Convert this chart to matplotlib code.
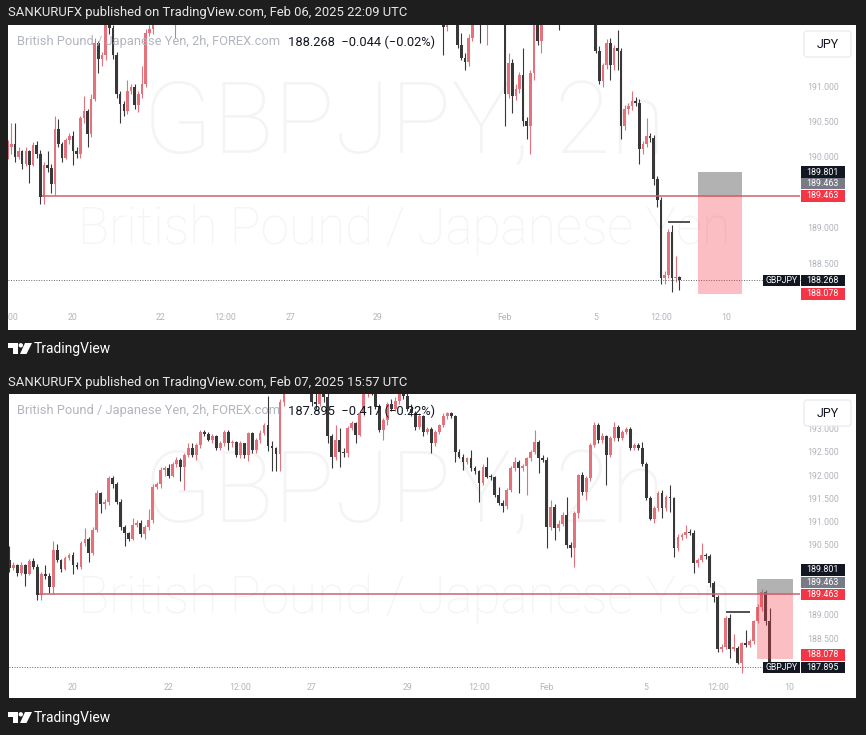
import numpy as np
import matplotlib
matplotlib.use('Agg')
import matplotlib.pyplot as plt
from matplotlib.patches import Rectangle, Polygon, Circle, FancyBboxPatch

plt.rcParams['font.family'] = ['Roboto', 'DejaVu Sans']

# 2h GBPJPY bars, index 0 = Jan 20 00:00, first bar = -18
FIRST_BAR = -18
opens = [
    190.05, 190.15, 190.20, 190.02, 190.10, 189.92, 190.10, 189.90, 190.18, 190.06,
    189.45, 189.90, 189.86, 189.63, 190.41, 190.20, 190.00, 190.25, 190.31, 190.10,
    190.05, 190.56, 190.66, 190.34, 190.84, 191.63, 191.40, 191.45, 191.95, 191.84,
    191.45, 190.91, 190.77, 190.66, 190.95, 191.00, 190.75, 190.90, 191.05, 191.77,
    191.83, 192.13, 192.17, 192.00, 192.27, 192.35, 192.20, 192.45, 192.60, 192.45,
    192.67, 192.95, 192.90, 192.78, 192.85, 192.60, 192.70, 192.95, 192.70, 192.74,
    192.45, 192.70, 192.45, 192.92, 192.56, 192.78, 192.92, 193.10, 192.65, 192.60,
    192.47, 193.60, 193.95, 194.10, 194.00, 194.15, 194.05, 194.20, 193.95, 193.60,
    193.55, 193.85, 193.70, 192.85, 192.42, 192.78, 192.52, 192.49, 193.03, 193.13,
    192.88, 193.35, 193.82, 193.95, 193.85, 193.50, 193.00, 193.20, 193.55, 193.45,
    193.62, 193.80, 193.72, 193.45, 193.35, 193.06, 193.30, 192.95, 193.02, 192.70,
    192.95, 193.10, 193.28, 193.35, 193.30, 192.52, 192.42, 192.31, 192.38, 192.17,
    192.10, 191.85, 192.20, 191.99, 191.97, 191.60, 191.42, 191.36, 191.70, 192.18,
    192.30, 192.17, 192.21, 192.38, 192.52, 192.74, 192.38, 192.35, 190.91, 191.34,
    190.88, 190.98, 191.17, 190.52, 190.45, 191.20, 192.02, 191.66, 191.95, 192.67,
    193.10, 192.78, 192.85, 192.45, 192.81, 193.05, 192.81, 192.95, 193.02, 192.60,
    192.66, 192.60, 192.27, 191.52, 191.09, 191.31, 191.63, 191.31, 191.56, 191.52,
    190.45, 190.70, 190.73, 190.80, 190.78, 190.13, 190.20, 190.31, 190.28, 189.70,
    189.40, 188.30, 188.34, 188.95, 188.30, 188.31, 187.98, 188.41, 188.38, 188.46,
    188.88, 189.20, 189.52, 188.88]
highs = [
    190.25, 190.50, 190.50, 190.15, 190.12, 190.15, 190.12, 190.22, 190.24, 190.12,
    189.95, 190.10, 189.92, 190.60, 190.55, 190.22, 190.28, 190.36, 190.38, 190.15,
    190.60, 190.88, 190.70, 190.90, 191.70, 191.65, 191.50, 192.00, 192.00, 191.88,
    191.50, 190.95, 190.80, 191.10, 191.05, 191.05, 190.95, 191.30, 191.82, 191.88,
    192.20, 192.22, 192.25, 192.30, 192.40, 192.38, 192.50, 192.70, 192.70, 192.70,
    193.00, 193.00, 192.95, 192.90, 192.88, 192.75, 193.00, 192.98, 192.78, 192.76,
    192.75, 192.72, 192.95, 192.95, 192.82, 192.98, 193.15, 193.72, 192.75, 192.62,
    193.65, 194.05, 194.20, 194.20, 194.30, 194.25, 194.30, 194.30, 194.00, 193.90,
    193.95, 193.95, 193.80, 192.90, 193.10, 193.03, 192.60, 193.08, 193.18, 193.16,
    193.40, 193.90, 194.05, 194.05, 193.90, 193.55, 193.25, 193.58, 193.65, 193.70,
    193.90, 193.95, 193.78, 193.55, 193.40, 193.35, 193.32, 193.05, 193.06, 192.98,
    193.12, 193.35, 193.38, 193.38, 193.32, 192.58, 192.48, 192.42, 192.56, 192.22,
    192.14, 192.25, 192.42, 192.05, 192.00, 191.77, 191.48, 191.75, 192.22, 192.42,
    192.34, 192.25, 192.42, 192.56, 192.99, 192.78, 192.45, 192.40, 191.49, 191.40,
    191.05, 191.22, 191.56, 190.58, 191.25, 192.05, 192.08, 192.00, 192.72, 193.17,
    193.14, 192.92, 192.88, 192.85, 193.17, 193.10, 193.00, 193.06, 193.05, 192.72,
    192.70, 192.74, 192.30, 191.58, 191.35, 191.68, 191.70, 191.60, 191.81, 191.56,
    190.75, 190.78, 190.95, 190.86, 190.84, 190.24, 190.56, 190.36, 190.33, 189.75,
    189.45, 188.40, 189.00, 189.05, 188.62, 188.36, 188.45, 188.70, 188.50, 188.92,
    189.25, 189.58, 189.56, 189.17]
lows = [
    189.98, 190.05, 189.95, 189.98, 189.85, 189.88, 189.65, 189.88, 190.00, 189.35,
    189.35, 189.80, 189.50, 189.48, 190.15, 189.95, 189.98, 190.20, 189.90, 190.00,
    190.00, 190.50, 190.15, 190.30, 190.80, 191.20, 191.30, 191.38, 191.75, 191.40,
    190.85, 190.50, 190.60, 190.62, 190.90, 190.70, 190.65, 190.85, 191.00, 191.72,
    191.75, 192.00, 191.95, 191.98, 192.20, 191.90, 191.70, 192.40, 192.40, 192.35,
    192.60, 192.85, 192.75, 192.72, 192.55, 192.56, 192.65, 192.55, 192.62, 192.42,
    192.38, 192.38, 192.32, 192.50, 192.50, 192.70, 192.88, 192.53, 192.10, 192.12,
    192.10, 193.50, 193.85, 193.90, 193.95, 193.95, 194.00, 194.00, 193.50, 193.45,
    193.50, 193.60, 192.70, 192.18, 192.35, 192.20, 192.40, 192.42, 192.98, 192.70,
    192.85, 193.30, 193.70, 193.75, 193.45, 192.95, 192.77, 193.10, 193.40, 193.40,
    193.55, 193.65, 193.40, 193.30, 193.00, 193.02, 192.85, 192.90, 192.49, 192.65,
    192.90, 193.05, 193.22, 193.25, 192.31, 192.38, 192.13, 192.25, 192.12, 192.05,
    191.45, 191.80, 191.95, 191.92, 191.55, 191.38, 191.24, 191.30, 191.65, 192.12,
    191.63, 192.10, 191.60, 192.33, 192.48, 192.06, 192.30, 190.45, 190.85, 190.63,
    190.82, 190.92, 190.45, 190.27, 190.06, 191.10, 191.60, 191.49, 191.90, 192.62,
    192.70, 192.70, 191.81, 192.40, 192.76, 192.75, 192.78, 192.90, 192.55, 192.55,
    192.55, 192.22, 191.48, 191.05, 191.00, 191.26, 191.10, 191.25, 191.24, 190.27,
    190.40, 190.62, 190.68, 190.74, 189.91, 190.05, 190.15, 190.22, 189.62, 189.30,
    188.22, 188.22, 188.30, 188.10, 188.25, 187.96, 187.77, 188.33, 188.33, 188.40,
    188.85, 189.10, 188.80, 187.85]
closes = [
    190.15, 190.20, 190.02, 190.10, 189.92, 190.10, 189.90, 190.18, 190.06, 189.45,
    189.90, 189.86, 189.63, 190.41, 190.20, 190.00, 190.25, 190.31, 190.10, 190.05,
    190.56, 190.66, 190.34, 190.84, 191.63, 191.40, 191.45, 191.95, 191.84, 191.45,
    190.91, 190.77, 190.66, 190.95, 191.00, 190.75, 190.90, 191.05, 191.77, 191.83,
    192.13, 192.17, 192.00, 192.27, 192.35, 192.20, 192.45, 192.60, 192.45, 192.67,
    192.95, 192.90, 192.78, 192.85, 192.60, 192.70, 192.95, 192.70, 192.74, 192.45,
    192.70, 192.45, 192.92, 192.56, 192.78, 192.92, 193.10, 192.65, 192.60, 192.47,
    193.60, 193.95, 194.10, 194.00, 194.15, 194.05, 194.20, 194.10, 193.60, 193.55,
    193.85, 193.70, 192.85, 192.42, 192.78, 192.52, 192.49, 193.03, 193.13, 192.88,
    193.35, 193.82, 193.95, 193.85, 193.50, 193.00, 193.20, 193.55, 193.45, 193.62,
    193.80, 193.72, 193.45, 193.35, 193.06, 193.30, 192.95, 193.02, 192.70, 192.95,
    193.10, 193.28, 193.35, 193.30, 192.52, 192.42, 192.31, 192.38, 192.17, 192.10,
    191.85, 192.20, 191.99, 191.97, 191.60, 191.42, 191.36, 191.70, 192.18, 192.30,
    192.17, 192.21, 192.38, 192.52, 192.74, 192.38, 192.35, 190.91, 191.34, 190.88,
    190.98, 191.17, 190.52, 190.45, 191.20, 192.02, 191.66, 191.95, 192.67, 193.10,
    192.78, 192.85, 192.45, 192.81, 193.05, 192.81, 192.95, 193.02, 192.60, 192.66,
    192.60, 192.27, 191.52, 191.09, 191.31, 191.63, 191.31, 191.56, 191.52, 190.45,
    190.70, 190.73, 190.80, 190.78, 190.13, 190.20, 190.31, 190.28, 189.70, 189.40,
    188.30, 188.34, 188.95, 188.30, 188.31, 187.98, 188.41, 188.38, 188.46, 188.88,
    189.20, 189.52, 188.88, 187.895]

# bar still forming when the first snapshot was taken (open, high, low, close)
top_live_bar = [188.31, 188.33, 188.13, 188.268]

level = 189.463
stop_level = 189.801
target_level = 188.078
level_from = -8.5
swing_line = [164, 170, 189.09]

top_box = [172.2, 184.3]
bottom_box = [171.9, 180.9]

top_ticks = [-18.2, 0, 24, 42, 60, 84, 119, 144, 162, 180]
top_tick_labels = ['12:00', '20', '22', '12:00', '27', '29', 'Feb', '5', '12:00', '10']
bottom_ticks = [0, 24, 42, 60, 84, 102, 119, 144, 162, 180]
bottom_tick_labels = ['20', '22', '12:00', '27', '29', '12:00', 'Feb', '5', '12:00', '10']

top_prices = [191.0, 190.5, 190.0, 189.0, 188.5]
bottom_prices = [193.0, 192.5, 192.0, 191.5, 191.0, 190.5, 189.0, 188.5]

W, H = 866, 735
UP, DOWN = '#e4727d', '#383838'
GREY_TXT = '#b2b5be'

fig = plt.figure(figsize=(W / 100, H / 100), dpi=100, facecolor='#1e1e1e')
deco = fig.add_axes([0, 0, 1, 1], zorder=-1)
deco.set_xlim(0, W)
deco.set_ylim(H, 0)
deco.axis('off')
over = fig.add_axes([0, 0, 1, 1], zorder=5)
over.set_xlim(0, W)
over.set_ylim(H, 0)
over.axis('off')


def chart(panel, step, ppu, ref_price, ref_y, last_bar, live, box, last_price,
          tags, price_ticks, tick_pos, tick_txt, quote):
    x0, y0, x1, y1 = panel
    ax = fig.add_axes([x0 / W, 1 - y1 / H, (x1 - x0) / W, (y1 - y0) / H])

    def X(px):
        return (px - 73) / step

    def Y(py):
        return ref_price - (py - ref_y) / ppu

    ax.set_xlim(X(x0), X(x1))
    ax.set_ylim(Y(y1), Y(y0))
    ax.set_facecolor('white')
    ax.set_xticks([])
    ax.set_yticks([])
    for s in ax.spines.values():
        s.set_visible(False)
    right = X(800)

    # watermark
    ax.text(X(404), Y(y0 + 128), 'GBPJPY, 2h', fontsize=73, color='#f4f4f4',
            ha='center', va='baseline', fontweight='light', zorder=0.5)
    ax.text(X(404), Y(y0 + 219), 'British Pound / Japanese Yen', fontsize=37,
            color='#f4f4f4', ha='center', va='baseline', fontweight='light', zorder=0.5)

    # candles
    n = last_bar - FIRST_BAR + 1
    idx = np.arange(FIRST_BAR, last_bar + 1)
    o = np.array(opens[:n])
    h = np.array(highs[:n])
    l = np.array(lows[:n])
    c = np.array(closes[:n])
    if live is not None:
        o[-1], h[-1], l[-1], c[-1] = live
    col = np.where(c >= o, UP, DOWN)
    ax.vlines(idx, l, h, colors=col, lw=0.8, zorder=2)
    ax.bar(idx, np.maximum(np.abs(c - o), 1.2 / ppu), bottom=np.minimum(o, c),
           width=0.72, color=col, lw=0, zorder=2)

    # drawings
    ax.hlines(level, level_from, right, color='#c9646f', lw=1.1, zorder=3)
    ax.hlines(swing_line[2], swing_line[0], swing_line[1], color='#222222', lw=1.1, zorder=3)
    ax.hlines(last_price, X(x0), right, color='#666666', lw=0.7,
              linestyles=(0, (1, 1.6)), zorder=3)
    ax.add_patch(Rectangle((box[0], level), box[1] - box[0], stop_level - level,
                           fc='#808080', alpha=0.6, lw=0, zorder=4))
    ax.add_patch(Rectangle((box[0], target_level), box[1] - box[0], level - target_level,
                           fc='#f23645', alpha=0.32, lw=0, zorder=4))

    # price scale
    for p in price_ticks:
        ax.text(X(823), p, f'{p:.3f}', fontsize=6.3, color=GREY_TXT,
                ha='center', va='center', zorder=5)
    for p, off, fc in tags:
        yc = p + off / ppu
        ax.add_patch(Rectangle((X(801), yc - 5.8 / ppu), 43.5 / step, 11.6 / ppu,
                               fc=fc, lw=0, zorder=6))
        ax.text(X(822.5), yc, f'{p:.3f}', fontsize=6.4, color='white',
                ha='center', va='center', zorder=7)
    ax.add_patch(Rectangle((X(763), last_price - 5.8 / ppu), 36.5 / step, 11.6 / ppu,
                           fc='#131722', lw=0, zorder=6))
    ax.text(X(781.5), last_price, 'GBPJPY', fontsize=6.2, color='white',
            ha='center', va='center', zorder=7)

    # time scale
    for t, s in zip(tick_pos, tick_txt):
        ax.text(t, Y(y0 + 293), s, fontsize=6.3, color=GREY_TXT,
                ha='center', va='center', clip_on=True, zorder=5)

    # legend
    ax.text(X(17), Y(y0 + 17), 'British Pound / Japanese Yen, 2h, FOREX.com',
            fontsize=9.3, color=GREY_TXT, ha='left', va='center', zorder=8)
    ax.text(X(288), Y(y0 + 17), quote, fontsize=9.3, color='#131722',
            ha='left', va='center', zorder=8)

    # currency button
    over.add_patch(FancyBboxPatch((x1 - 52, y0 + 6), 47, 26,
                                  boxstyle='round,pad=0,rounding_size=3',
                                  fc='white', ec='#e6e8ee', lw=0.8))
    over.text(x1 - 28.5, y0 + 19, 'JPY', fontsize=9, color='#131722',
              ha='center', va='center')
    return ax


chart((8, 25, 856, 330), 3.63, 70.7, 190.0, 158, 167, top_live_bar, top_box, 188.268,
      [(stop_level, 0, '#131722'), (level, 12.5, '#787b86'), (level, 0, '#f23645'),
       (188.268, 0, '#131722'), (target_level, 0, '#f23645')],
      top_prices, top_ticks, top_tick_labels, '188.268  \u22120.044 (\u22120.02%)')

chart((9, 394, 856, 698), 3.98, 46.6, 190.5, 546, 175, None, bottom_box, 187.895,
      [(stop_level, 8.6, '#131722'), (level, 11.8, '#787b86'), (level, 0, '#f23645'),
       (target_level, 3.9, '#f23645'), (187.895, 0, '#131722')],
      bottom_prices, bottom_ticks, bottom_tick_labels, '187.895  \u22120.417 (\u22120.22%)')

# headers and footers
deco.text(8, 12, 'SANKURUFX published on TradingView.com, Feb 06, 2025 22:09 UTC',
          fontsize=9.4, color='#e8e8e8', ha='left', va='center')
deco.text(8, 382, 'SANKURUFX published on TradingView.com, Feb 07, 2025 15:57 UTC',
          fontsize=9.4, color='#e8e8e8', ha='left', va='center')


def logo(x, y):
    deco.add_patch(Polygon([(x, y), (x + 9.5, y), (x + 9.5, y + 11), (x + 5, y + 11),
                            (x + 5, y + 4.5), (x, y + 4.5)], fc='white', lw=0))
    deco.add_patch(Circle((x + 12.8, y + 2.3), 2.2, fc='white', lw=0))
    deco.add_patch(Polygon([(x + 17, y), (x + 24, y), (x + 18.5, y + 11), (x + 12, y + 11)],
                           fc='white', lw=0))
    deco.text(x + 26, y + 6, 'TradingView', fontsize=10, color='white',
              ha='left', va='center')


logo(8, 343)
logo(8, 712)

fig.savefig('out.png', dpi=100, facecolor=fig.get_facecolor())
